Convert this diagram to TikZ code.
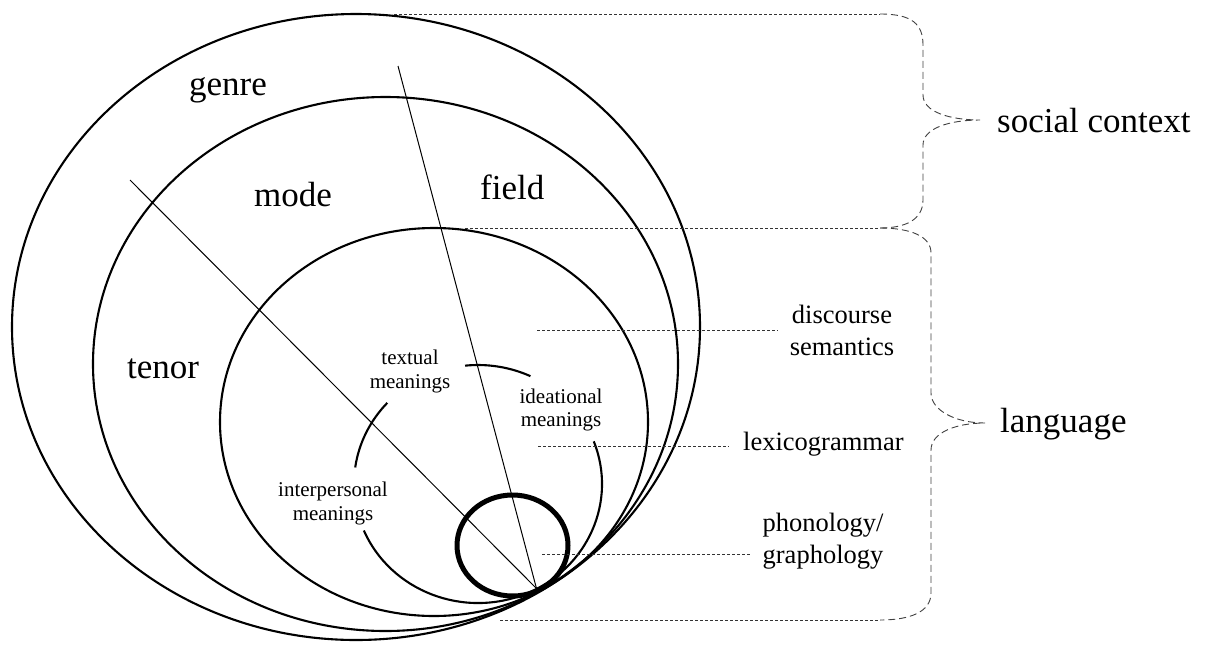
\documentclass[tikz,border=0pt]{standalone}
\usepackage{fontspec}
\setmainfont{Liberation Serif}
\usetikzlibrary{calc}
\begin{document}
\begin{tikzpicture}[x=1pt,y=1pt,
  ring/.style={line width=2.1pt},
  radial/.style={line width=1pt},
  leader/.style={draw=black!80, line width=0.8pt, dash pattern=on 3pt off 2pt},
  bracepath/.style={draw=black!75, line width=0.9pt, dash pattern=on 7pt off 4pt},
  biglabel/.style={inner sep=0pt, anchor=base west, font=\fontsize{35}{42}\selectfont},
  midlabel/.style={inner sep=0pt, align=center, font=\fontsize{26.5}{32}\selectfont},
  smalllabel/.style={inner sep=0pt, align=center, font=\fontsize{21}{23.5}\selectfont},
]
\useasboundingbox (0,0) rectangle (1207,-646);

% nested strata, all touching near the lower right
\draw[ring] (356,-327) ellipse [x radius=344, y radius=313];      % genre
\draw[ring] (385.5,-364) ellipse [x radius=292.5, y radius=267];  % register
\draw[ring] (434,-422) ellipse [x radius=214, y radius=194];      % language
\draw[line width=5pt] (512.5,-545.5) ellipse [x radius=55.5, y radius=50.5]; % expression

% metafunction arcs
\coordinate (M) at (478,-484);
\draw[ring] (M) ++(96:124 and 119) arc[start angle=96, end angle=65, x radius=124, y radius=119];
\draw[ring] (M) ++(137:124 and 119) arc[start angle=137, end angle=172, x radius=124, y radius=119];
\draw[ring] (M) ++(203:124 and 119) arc[start angle=203, end angle=381, x radius=124, y radius=119];

% radial dividers meeting at the point of contact
\coordinate (T) at (536.5,-588.5);
\coordinate (r1) at (130,-180);
\coordinate (r2) at (398,-66);
\draw[radial] (r1) -- (T);
\draw[radial] (r2) -- (T);

% stratum and register labels
\node[biglabel] (genre) at (189,-95) {genre};
\node[biglabel] (mode)  at (254,-206) {mode};
\node[biglabel] (field) at (480,-199) {field};
\node[biglabel] (tenor) at (127,-378) {tenor};

\node[smalllabel] (textual) at (410,-371.5) {textual\\meanings};
\node[smalllabel] (ideational) at (561,-410) {ideational\\meanings};
\node[smalllabel] (interpersonal) at (333,-503.5) {interpersonal\\meanings};

% language strata
\node[midlabel] (ds) at (842,-330) {discourse\\semantics};
\node[midlabel, anchor=base west] (lex) at (743,-450) {lexicogrammar};
\node[midlabel] (phon) at (823,-541) {phonology/\\graphology};

\coordinate (ds0) at (537,-330);
\coordinate (lx0) at (538,-446);
\coordinate (ph0) at (542,-554);
\draw[leader, shorten >=12pt] (ds0) -- (ds0 -| ds.west);
\draw[leader, shorten >=14pt] (lx0) -- (lx0 -| lex.west);
\draw[leader, shorten >=11pt] (ph0) -- (ph0 -| phon.west);

% horizontal guides out to the braces
\coordinate (gtop) at (394,-14);
\coordinate (ltop) at (465,-228);
\coordinate (lbot) at (500,-620);
\coordinate (b1a) at (880,-14);
\coordinate (b1b) at (880,-228);
\coordinate (b2b) at (880,-620);
\draw[leader] (gtop) -- (b1a);
\draw[leader] (ltop) -- (b1b);
\draw[leader] (lbot) -- (b2b);

% braces
\coordinate (sctip) at (980,-120);
\coordinate (lgtip) at (985,-423);
\draw[bracepath] (b1a) .. controls (912,-14) and (923,-24) .. (923,-45) -- (923,-95)
  .. controls (923,-112) and (950,-120) .. (sctip)
  .. controls (950,-120) and (923,-128) .. (923,-145) -- (923,-200)
  .. controls (923,-220) and (905,-228) .. (b1b);
\draw[bracepath] (b1b) .. controls (910,-228) and (931,-236) .. (931,-253) -- (931,-393)
  .. controls (931,-410) and (955,-423) .. (lgtip)
  .. controls (955,-423) and (931,-433) .. (931,-450) -- (931,-593)
  .. controls (931,-612) and (910,-620) .. (b2b);

\node[biglabel] (social) at (997,-132) {social context};
\node[biglabel] (language) at (1000,-432) {language};
\end{tikzpicture}
\end{document}
